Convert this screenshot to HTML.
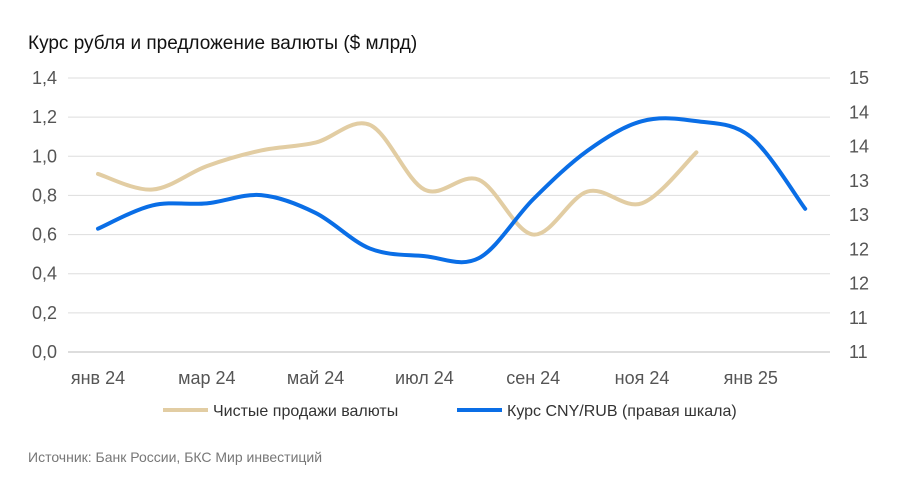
<!DOCTYPE html>
<html><head><meta charset="utf-8"><style>
body{margin:0;background:#fff;font-family:"Liberation Sans",sans-serif;}
</style></head><body>
<svg width="902" height="492" style="font-family:'Liberation Sans',sans-serif">
<text x="28" y="49" font-size="19" fill="#111">Курс рубля и предложение валюты ($ млрд)</text>
<g id="grid"></g>
<g id="lt"></g>
<g id="rt"></g>
<g id="xt"></g>
<g id="series"></g>
<g>
<line x1="163" y1="410" x2="208" y2="410" stroke="#e2cda3" stroke-width="4"/>
<text x="213" y="416" font-size="16" fill="#333">Чистые продажи валюты</text>
<line x1="457" y1="410" x2="502" y2="410" stroke="#0a6ee6" stroke-width="4"/>
<text x="507" y="416" font-size="16" fill="#333">Курс CNY/RUB (правая шкала)</text>
</g>
<text x="28" y="462" font-size="14" fill="#777">Источник: Банк России, БКС Мир инвестиций</text>
</svg>
<script>
const months=["янв 24","фев 24","мар 24","апр 24","май 24","июн 24","июл 24","авг 24","сен 24","окт 24","ноя 24","дек 24","янв 25","фев 25"];
const tickMonths=["янв 24","мар 24","май 24","июл 24","сен 24","ноя 24","янв 25"];
const leftTicks=["0,0","0,2","0,4","0,6","0,8","1,0","1,2","1,4"];
const rightTicks=["11","11","12","12","13","13","14","14","15"];
const salesValues=[0.91,0.83,0.95,1.03,1.07,1.16,0.83,0.88,0.60,0.82,0.76,1.02];
const cnyValues=[12.8,13.14,13.17,13.29,13.03,12.51,12.4,12.37,13.23,13.94,14.37,14.37,14.14,13.09];
const NS="http://www.w3.org/2000/svg";
const x=i=>98+i*54.4;
const yL=v=>352-v/1.4*274;
const yR=v=>352-(v-11)/4*274;
function mk(t,a,p){const e=document.createElementNS(NS,t);for(const k in a)e.setAttribute(k,a[k]);p.appendChild(e);return e;}
const grid=document.getElementById('grid'),lt=document.getElementById('lt'),rt=document.getElementById('rt'),xt=document.getElementById('xt'),se=document.getElementById('series');
leftTicks.forEach((t,i)=>{const v=i*0.2;
const g=mk('line',{x1:68,x2:830,y1:yL(v),y2:yL(v),stroke:i==0?'#bbb':'#ddd','stroke-width':1},grid);


const e=mk('text',{x:57,y:yL(v)+6,'font-size':18,fill:'#555','text-anchor':'end'},lt);e.textContent=t;

});
rightTicks.forEach((t,i)=>{const v=11+i*0.5;
const e=mk('text',{x:849,y:yR(v)+6,'font-size':18,fill:'#555'},rt);e.textContent=t;

});
tickMonths.forEach(m=>{const i=months.indexOf(m);
const e=mk('text',{x:x(i),y:384,'font-size':18,fill:'#555','text-anchor':'middle'},xt);e.textContent=m;

});
function path(pts){let d=`M${pts[0][0]},${pts[0][1]}`;
for(let i=0;i<pts.length-1;i++){const p0=pts[Math.max(0,i-1)],p1=pts[i],p2=pts[i+1],p3=pts[Math.min(pts.length-1,i+2)];
const c1=[p1[0]+(p2[0]-p0[0])/6,p1[1]+(p2[1]-p0[1])/6],c2=[p2[0]-(p3[0]-p1[0])/6,p2[1]-(p3[1]-p1[1])/6];
d+=` C${c1[0]},${c1[1]} ${c2[0]},${c2[1]} ${p2[0]},${p2[1]}`;}return d;}
const s=mk('path',{d:path(salesValues.map((v,i)=>[x(i),yL(v)])),fill:'none',stroke:'#e2cda3','stroke-width':4,'stroke-linecap':'round'},se);


const c=mk('path',{d:path(cnyValues.map((v,i)=>[x(i),yR(v)])),fill:'none',stroke:'#0a6ee6','stroke-width':4,'stroke-linecap':'round'},se);


</script>
</body></html>
